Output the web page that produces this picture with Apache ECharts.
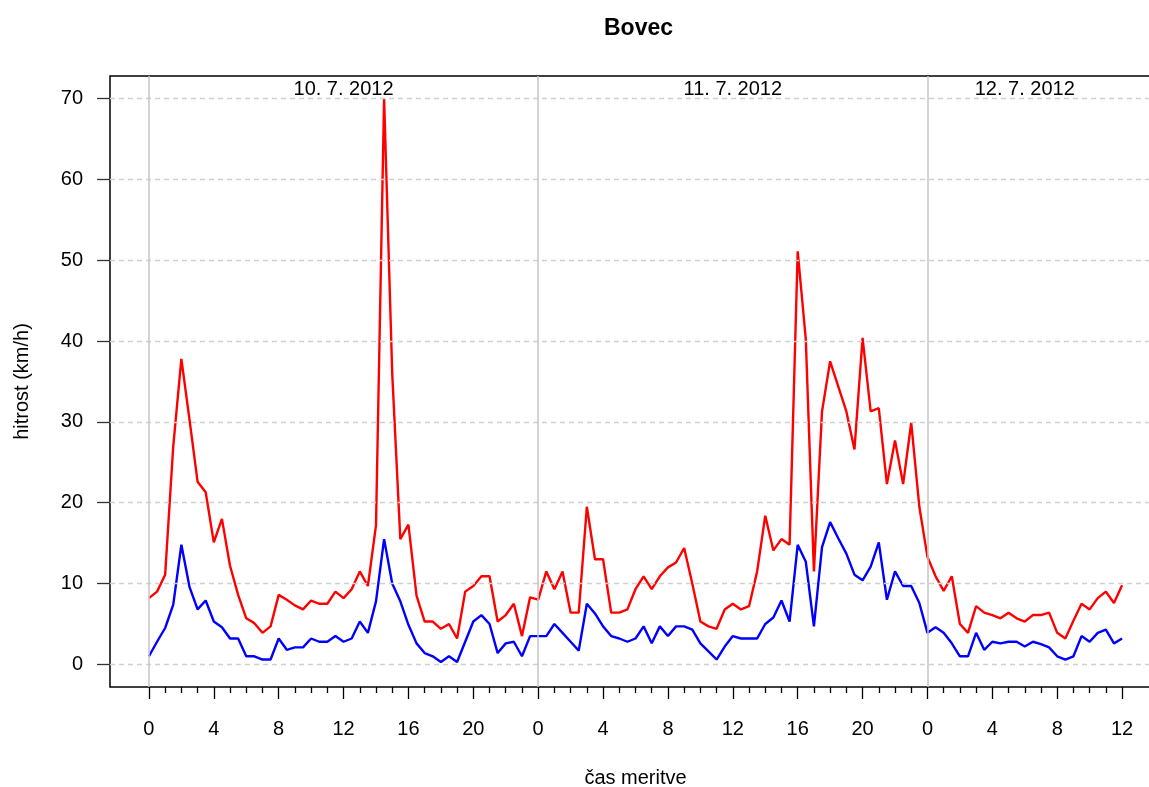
<!DOCTYPE html>
<html>
<head>
<meta charset="utf-8">
<title>Bovec</title>
<script src="https://cdn.jsdelivr.net/npm/echarts@6/dist/echarts.min.js"></script>
<style>
  html, body { margin: 0; padding: 0; background: #fff; }
  #chart { width: 1149px; height: 787px; }
</style>
</head>
<body>
<div id="chart"></div>
<script>
// half-hourly measurements, 10. 7. 2012 00:00 to 12. 7. 2012 12:00
const maxSpeed = [
  8.2, 9.0, 11.1, 27.0, 37.8, 30.3, 22.6, 21.3,
  15.1, 18.0, 12.2, 8.6, 5.7, 5.1, 3.9, 4.7,
  8.6, 8.0, 7.3, 6.8, 7.9, 7.5, 7.5, 9.0,
  8.2, 9.3, 11.5, 9.7, 17.2, 70.0, 36.0, 15.5,
  17.3, 8.5, 5.3, 5.3, 4.4, 5.0, 3.2, 9.0,
  9.7, 10.9, 10.9, 5.3, 6.1, 7.5, 3.5, 8.3,
  8.0, 11.5, 9.3, 11.5, 6.4, 6.4, 19.5, 13.0,
  13.0, 6.4, 6.4, 6.8, 9.3, 10.9, 9.3, 10.9,
  12.0, 12.6, 14.4, 10.0, 5.3, 4.7, 4.4, 6.8,
  7.5, 6.8, 7.2, 11.5, 18.4, 14.1, 15.5, 14.8,
  51.1, 40.2, 11.5, 31.3, 37.5, 34.4, 31.3, 26.6,
  40.4, 31.3, 31.7, 22.3, 27.7, 22.3, 29.9, 19.5,
  13.3, 10.9, 9.1, 10.9, 5.0, 3.9, 7.2, 6.4,
  6.1, 5.7, 6.4, 5.7, 5.3, 6.1, 6.1, 6.4,
  3.9, 3.2, 5.4, 7.5, 6.8, 8.2, 9.0, 7.6,
  9.8
]
const meanSpeed = [
  1.0, 2.8, 4.5, 7.4, 14.8, 9.6, 6.8, 7.9,
  5.3, 4.6, 3.2, 3.2, 1.0, 1.0, 0.6, 0.6,
  3.2, 1.8, 2.1, 2.1, 3.2, 2.8, 2.8, 3.5,
  2.8, 3.2, 5.3, 3.9, 7.8, 15.5, 10.0, 7.8,
  4.9, 2.6, 1.4, 1.0, 0.3, 1.0, 0.3, 2.8,
  5.3, 6.1, 5.0, 1.4, 2.6, 2.8, 1.0, 3.5,
  3.5, 3.5, 5.0, 3.9, 2.8, 1.7, 7.5, 6.3,
  4.7, 3.5, 3.2, 2.8, 3.2, 4.7, 2.6, 4.7,
  3.5, 4.7, 4.7, 4.3, 2.6, 1.6, 0.6, 2.2,
  3.5, 3.2, 3.2, 3.2, 5.0, 5.8, 7.9, 5.3,
  14.8, 12.7, 4.7, 14.5, 17.6, 15.6, 13.7, 11.1,
  10.4, 12.1, 15.1, 8.0, 11.5, 9.7, 9.7, 7.6,
  3.9, 4.6, 3.9, 2.6, 1.0, 1.0, 3.9, 1.8,
  2.8, 2.6, 2.8, 2.8, 2.2, 2.8, 2.5, 2.1,
  1.0, 0.6, 1.0, 3.5, 2.8, 3.9, 4.3, 2.6,
  3.2
]
const hours = maxSpeed.map((_, i) => i * 0.5)

const yTicks = [0, 10, 20, 30, 40, 50, 60, 70]
const dayStarts = [0, 24, 48]
const dayCenters = [12, 36, 54]
const dayLabels = ['10. 7. 2012', '11. 7. 2012', '12. 7. 2012']

const FONT = 'Liberation Sans, Arial, Helvetica, sans-serif'

// plot box (R style, 4% padding around the data range), right side runs off the canvas
const box = { left: 110, top: 76, width: 1051, height: 611 }
const xMin = -2.4, xMax = 62.4
const yMin = -2.8, yMax = 72.8
const ppx = box.width / (xMax - xMin)
const ppy = box.height / (yMax - yMin)
const axisGrid = {
  left: box.left + (0 - xMin) * ppx,
  top: box.top + (yMax - 70) * ppy,
  width: 60 * ppx,
  height: 70 * ppy,
}

const chart = echarts.init(document.getElementById('chart'))

const option = {
  animation: false,
  backgroundColor: '#fff',
  textStyle: { fontFamily: FONT },
  title: {
    text: 'Bovec',
    left: 599,
    top: 12,
    textStyle: { fontFamily: FONT, fontSize: 23, fontWeight: 'bold', color: '#000' },
  },
  grid: [
    {
      ...box,
      outerBoundsMode: 'none',
      containLabel: false,
      show: true,
      borderColor: '#000',
      borderWidth: 1.5,
      backgroundColor: 'transparent',
    },
    { ...axisGrid, outerBoundsMode: 'none', containLabel: false },
  ],
  xAxis: [
    { gridIndex: 0, type: 'value', min: xMin, max: xMax, show: false },
    {
      gridIndex: 1,
      type: 'value',
      min: 0,
      max: 60,
      interval: 4,
      position: 'bottom',
      offset: (0 - yMin) * ppy,
      name: 'čas meritve',
      nameLocation: 'middle',
      nameGap: 81,
      nameTextStyle: { fontFamily: FONT, fontSize: 20, color: '#000' },
      axisLine: { show: false, onZero: false },
      axisTick: { show: true, length: 12, lineStyle: { color: '#000', width: 1.3 } },
      minorTick: { show: true, splitNumber: 4, length: 6, lineStyle: { color: '#000', width: 1.3 } },
      axisLabel: {
        margin: 32,
        fontFamily: FONT,
        fontSize: 20,
        color: '#000',
        formatter: (v) => String(v % 24),
      },
      splitLine: { show: false },
    },
  ],
  yAxis: [
    { gridIndex: 0, type: 'value', min: yMin, max: yMax, show: false },
    {
      gridIndex: 1,
      type: 'value',
      min: 0,
      max: 70,
      interval: 10,
      position: 'left',
      offset: (0 - xMin) * ppx,
      name: 'hitrost (km/h)',
      nameLocation: 'middle',
      nameGap: 78,
      nameRotate: 90,
      nameTextStyle: { fontFamily: FONT, fontSize: 20, color: '#000' },
      axisLine: { show: false, onZero: false },
      axisTick: { show: true, length: 13, lineStyle: { color: '#333', width: 1.3 } },
      axisLabel: { margin: 27, fontFamily: FONT, fontSize: 20, color: '#000' },
      splitLine: { show: false },
    },
  ],
  series: [
    {
      // guide lines: dashed horizontals and day boundaries
      type: 'line',
      xAxisIndex: 0,
      yAxisIndex: 0,
      data: [],
      z: 1,
      markLine: {
        silent: true,
        symbol: 'none',
        label: { show: false },
        animation: false,
        data: [
          ...yTicks.map((v) => ({
            yAxis: v,
            lineStyle: { color: '#d0d0d0', width: 1.4, type: [5, 4] },
          })),
          ...dayStarts.map((v) => ({
            xAxis: v,
            lineStyle: { color: '#c4c4c4', width: 1.5, type: 'solid' },
          })),
        ],
      },
    },
    {
      name: 'max',
      type: 'line',
      xAxisIndex: 0,
      yAxisIndex: 0,
      data: hours.map((h, i) => [h, maxSpeed[i]]),
      showSymbol: false,
      lineStyle: { color: '#ff0000', width: 2.4 },
      itemStyle: { color: '#ff0000' },
      z: 3,
    },
    {
      name: 'mean',
      type: 'line',
      xAxisIndex: 0,
      yAxisIndex: 0,
      data: hours.map((h, i) => [h, meanSpeed[i]]),
      showSymbol: false,
      lineStyle: { color: '#0000ff', width: 2.4 },
      itemStyle: { color: '#0000ff' },
      z: 3,
    },
    {
      // date labels at the top of each day
      type: 'scatter',
      xAxisIndex: 0,
      yAxisIndex: 0,
      symbolSize: 0,
      silent: true,
      z: 4,
      itemStyle: { opacity: 1 },
      data: dayCenters.map((c, i) => ({ value: [c, 71.1], name: dayLabels[i] })),
      label: {
        show: true,
        position: 'inside',
        formatter: '{b}',
        fontFamily: FONT,
        fontSize: 20,
        color: '#000',
        opacity: 1,
        textBorderWidth: 0,
      },
    },
  ],
}

chart.setOption(option)
window.addEventListener('resize', () => chart.resize())
</script>
</body>
</html>
